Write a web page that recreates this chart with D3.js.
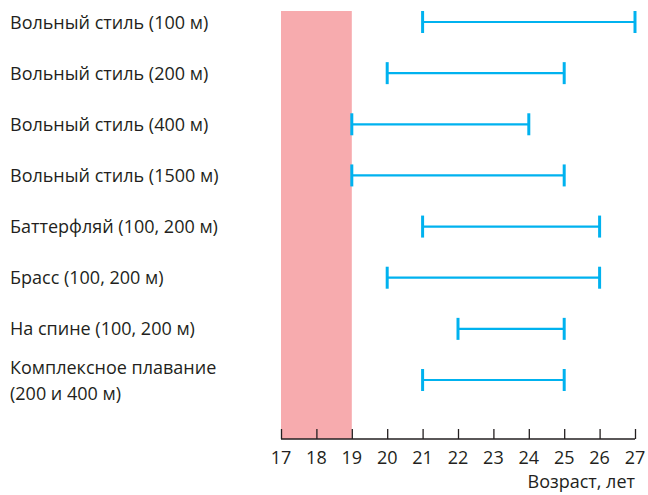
<!DOCTYPE html>
<html><head><meta charset="utf-8">
<script src="https://cdn.jsdelivr.net/npm/d3@7"></script>
<style>body{margin:0;background:#fff}</style>
</head><body>
<svg id="c" width="648" height="495"></svg>
<script>
const categories = [
  ["Вольный стиль (100 м)"],
  ["Вольный стиль (200 м)"],
  ["Вольный стиль (400 м)"],
  ["Вольный стиль (1500 м)"],
  ["Баттерфляй (100, 200 м)"],
  ["Брасс (100, 200 м)"],
  ["На спине (100, 200 м)"],
  ["Комплексное плавание", "(200 и 400 м)"]
];
const minAge = [21, 20, 19, 19, 21, 20, 22, 21];
const maxAge = [27, 25, 24, 25, 26, 26, 25, 25];
const band = [17, 19];
const ticks = [17,18,19,20,21,22,23,24,25,26,27];
const axisTitle = "Возраст, лет";

const svg = d3.select("#c");
const font = "'Open Sans', sans-serif";
const fs = 18;
const x = d3.scaleLinear().domain([17, 27]).range([281, 635]);
const y = d3.scalePoint().domain(d3.range(categories.length)).range([22, 380]);
const axisY = 439;
const lh = 26;

svg.append("rect")
  .attr("x", x(band[0])).attr("y", 11)
  .attr("width", x(band[1]) - x(band[0])).attr("height", axisY - 11)
  .attr("fill", "#f7abae");

const g = svg.append("g").attr("transform", `translate(0,${axisY})`);
const axis = d3.axisTop(x).tickValues(ticks).tickSize(10).tickFormat("");
g.call(axis);
g.select(".domain").attr("stroke", "#231f20").attr("stroke-width", 1.5).attr("d", `M${x(17)},0H${x(27)}`);
g.selectAll(".tick line").attr("stroke", "#231f20").attr("stroke-width", 1.3);

svg.append("g").selectAll("text").data(ticks).join("text")
  .attr("x", d => x(d)).attr("y", 464)
  .attr("text-anchor", "middle")
  .attr("font-family", font).attr("font-size", fs).attr("fill", "#231f20")
  .text(d => d);

svg.append("text").attr("x", x(27)).attr("y", 488)
  .attr("text-anchor", "end").attr("font-family", font).attr("font-size", fs).attr("fill", "#231f20")
  .text(axisTitle);

const rows = svg.append("g").selectAll("g").data(categories).join("g")
  .attr("transform", (d, i) => `translate(0,${y(i)})`);

rows.append("text")
  .attr("x", 10).attr("y", d => 6.5 - (d.length - 1) * lh / 2)
  .attr("font-family", font).attr("font-size", fs).attr("fill", "#231f20")
  .selectAll("tspan").data(d => d).join("tspan")
  .attr("x", 10).attr("dy", (d, j) => j === 0 ? 0 : lh)
  .text(d => d);

const col = "#00b2ef";
rows.append("line")
  .attr("x1", (d, i) => x(minAge[i])).attr("x2", (d, i) => x(maxAge[i]))
  .attr("stroke", col).attr("stroke-width", 2.2);
rows.append("line")
  .attr("x1", (d, i) => x(minAge[i])).attr("x2", (d, i) => x(minAge[i]))
  .attr("y1", -11).attr("y2", 11).attr("stroke", col).attr("stroke-width", 3);
rows.append("line")
  .attr("x1", (d, i) => x(maxAge[i])).attr("x2", (d, i) => x(maxAge[i]))
  .attr("y1", -11).attr("y2", 11).attr("stroke", col).attr("stroke-width", 3);
</script>
</body></html>
